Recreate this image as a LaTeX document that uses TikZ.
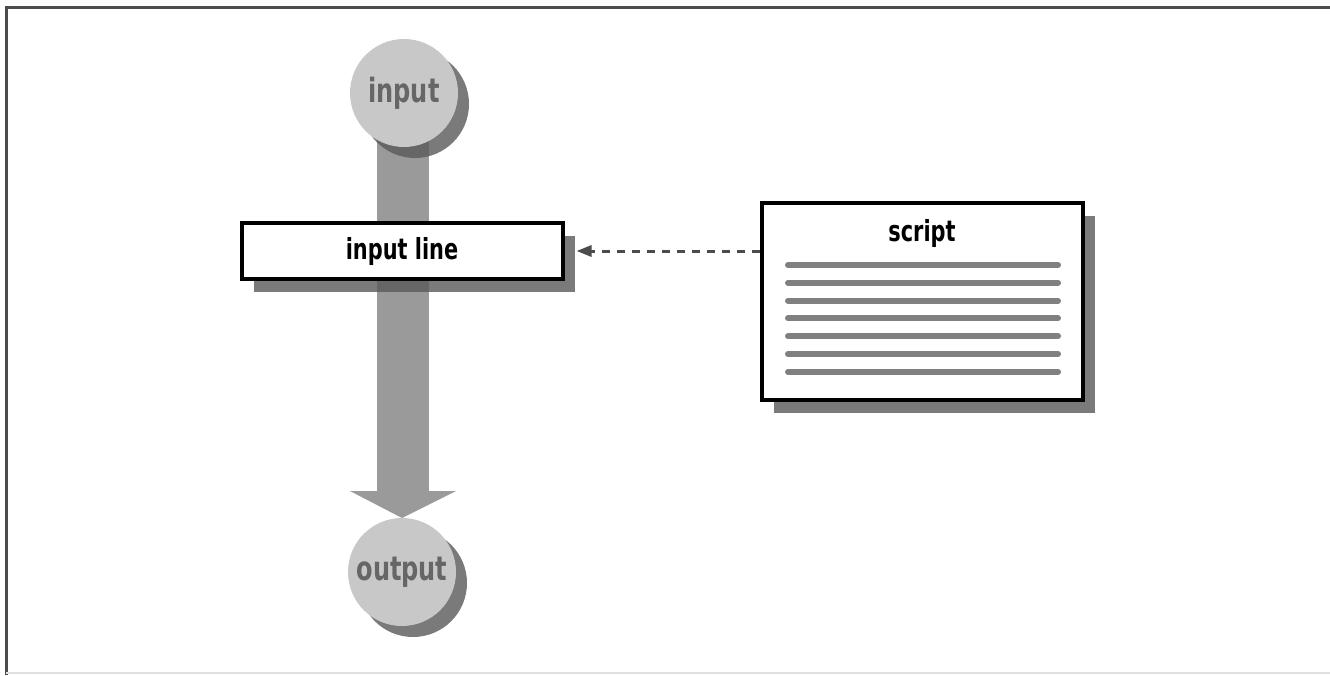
\documentclass[tikz,border=0pt]{standalone}
\usepackage{fontspec}
\setmainfont{DejaVu Sans Condensed}[FakeStretch=0.8]
\usetikzlibrary{arrows.meta,positioning,shadows,calc}
\definecolor{ballgray}{HTML}{C8C8C8}
\definecolor{stemgray}{HTML}{9A9A9A}
\definecolor{rulegray}{HTML}{808080}

\begin{document}
\begin{tikzpicture}[
  x=0.2mm, y=-0.2mm,
  ball/.style={circle, fill=ballgray, minimum size=21.6mm, inner sep=0pt,
    text=black!60, font=\bfseries\fontsize{19}{22}\selectfont,
    drop shadow={shadow xshift=2.2mm, shadow yshift=-2.2mm, fill=black!65, opacity=0.8}},
  box/.style={draw, line width=0.8mm, fill=white, inner sep=0pt,
    font=\bfseries\fontsize{16.5}{20}\selectfont,
    drop shadow={shadow xshift=2.4mm, shadow yshift=-2.6mm, fill=black!65, opacity=0.8}},
  arr/.style={-{Triangle[length=3mm,width=2.2mm]}, line width=0.6mm, black!70,
    dash pattern=on 1.6mm off 1.4mm}
]
\useasboundingbox (0,0) rectangle (1330,675);
% frame
\draw[line width=0.6mm, black!70] (6,675) -- (6,8) -- (1330,8);
\draw[line width=0.4mm, black!12] (6,673) -- (1330,673);

% stem with arrow head
\fill[stemgray] (377,95) rectangle (429,492);
\fill[stemgray] (350,491) -- (456,491) -- (402,518) -- cycle;

\node[ball] (inp) at (404,93) {\raisebox{-0.6mm}{input}};
\node[ball] (outp) at (402,572) {output};

\node[box, minimum width=64.2mm, minimum height=11.2mm] (inline) at (402,251) {input line};

\node[box, minimum width=64.2mm, minimum height=39.4mm] (script) at (922,301) {};
\node[font=\bfseries\fontsize{16.5}{20}\selectfont, below=2.6mm of script.north] (title) {script};
\foreach \y in {265,282.8,300.6,318.4,336.2,354,371.8}
  \draw[rulegray, line width=1.2mm, line cap=round] (788,\y) -- (1058,\y);

\draw[arr, shorten >=2.4mm] (script.west |- inline) -- (inline.east);
\end{tikzpicture}
\end{document}
